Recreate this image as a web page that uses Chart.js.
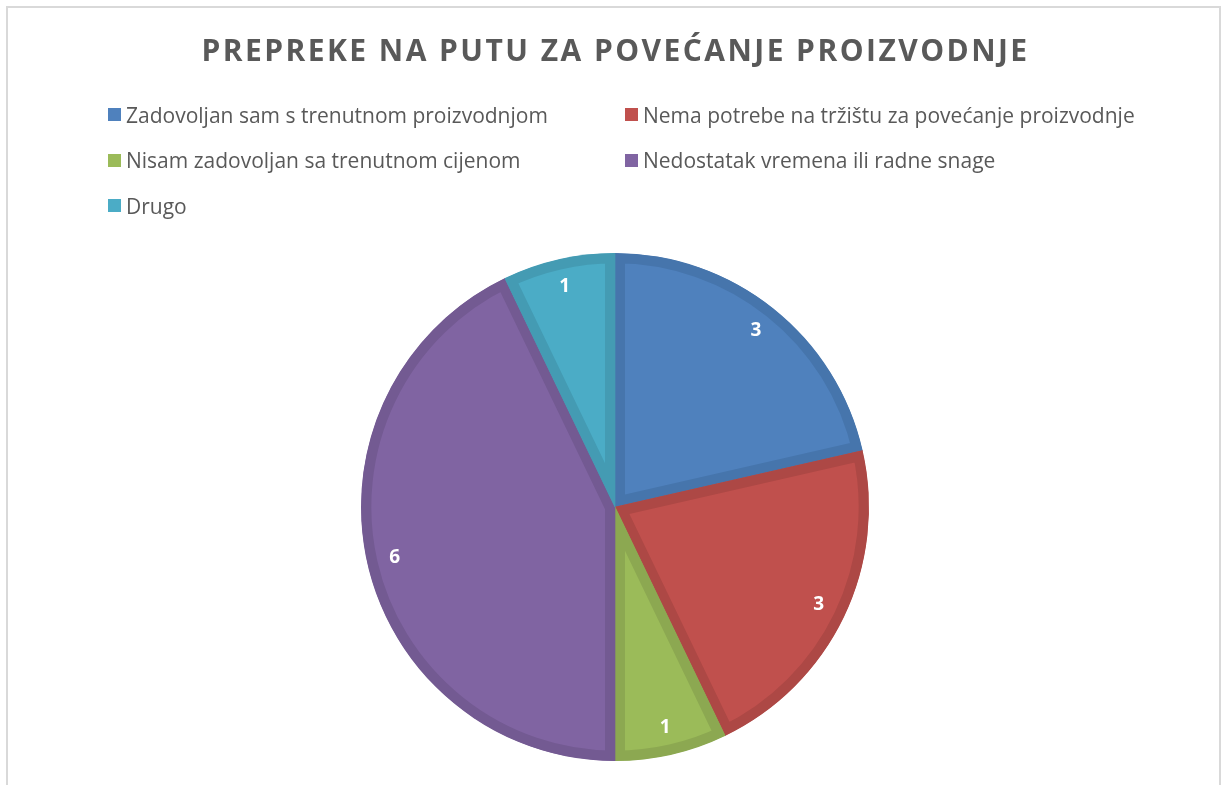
<!DOCTYPE html>
<html>
<head>
<meta charset="utf-8">
<script src="https://cdn.jsdelivr.net/npm/chart.js@4/dist/chart.umd.min.js"></script>
<style>
  html, body { margin: 0; padding: 0; background: #fff; }
  body { width: 1227px; height: 785px; position: relative; overflow: hidden; font-family: "Open Sans", sans-serif; }
  #frame { position: absolute; left: 6px; top: 6px; width: 1215px; height: 820px; border: 2px solid #d9d9d9; box-sizing: border-box; }
  #title { position: absolute; left: 0; width: 1231px; top: 29px; text-align: center;
           font: bold 30px "Open Sans", sans-serif; color: #595959; letter-spacing: 2.45px; }
  .item { position: absolute; display: flex; align-items: center; color: #595959; font-size: 21px; white-space: nowrap; }
  .item i { display: inline-block; width: 13px; height: 13px; margin-right: 5px; }
  #chart { position: absolute; left: 0; top: 0; }
</style>
</head>
<body>
<div id="frame"></div>
<canvas id="chart" width="1227" height="785"></canvas>
<div id="title">PREPREKE NA PUTU ZA POVEĆANJE PROIZVODNJE</div>
<div id="legend"></div>
<script>
/* ---------- data ---------- */
const labels = [
  'Zadovoljan sam s trenutnom proizvodnjom',
  'Nema potrebe na tržištu za povećanje proizvodnje',
  'Nisam zadovoljan sa trenutnom cijenom',
  'Nedostatak vremena ili radne snage',
  'Drugo'
];
const values = [3, 3, 1, 6, 1];

/* ---------- styles ---------- */
const fills   = ['#4f81bd', '#c0504d', '#9bbb59', '#8064a2', '#4bacc6'];
const borders = ['#4675ac', '#ad4845', '#8ca851', '#735a92', '#449bb3'];

// value labels inside the slices, like Excel's "best fit"
const sliceLabels = {
  id: 'sliceLabels',
  afterDatasetsDraw(chart) {
    const ctx = chart.ctx;
    const ds = chart.data.datasets[0];
    ctx.save();
    ctx.font = 'bold 19px "Open Sans", sans-serif';
    ctx.fillStyle = '#fff';
    ctx.textAlign = 'center';
    ctx.textBaseline = 'middle';
    chart.getDatasetMeta(0).data.forEach((arc, i) => {
      const { x, y, startAngle, endAngle, outerRadius } = arc.getProps(['x', 'y', 'startAngle', 'endAngle', 'outerRadius']);
      const mid = (startAngle + endAngle) / 2;
      const r = outerRadius * 0.89;
      ctx.fillText(ds.data[i], x + Math.cos(mid) * r, y + Math.sin(mid) * r);
    });
    ctx.restore();
  }
};

/* ---------- chart ---------- */
new Chart(document.getElementById('chart'), {
  type: 'pie',
  data: {
    labels,
    datasets: [{
      data: values,
      backgroundColor: fills,
      borderColor: borders,
      borderWidth: 10,
      borderAlign: 'inner',
      borderJoinStyle: 'miter'
    }]
  },
  options: {
    responsive: false,
    animation: false,
    layout: { padding: { left: 361, right: 358, top: 253, bottom: 24 } },
    plugins: { legend: { display: false }, tooltip: { enabled: false } }
  },
  plugins: [sliceLabels]
});

/* ---------- legend (two columns, like the original) ---------- */
const legend = document.getElementById('legend');
labels.forEach((txt, i) => {
  const el = document.createElement('div');
  el.className = 'item';
  el.style.left = (i % 2 ? 625 : 108) + 'px';
  el.style.top  = (100.5 + Math.floor(i / 2) * 45.5) + 'px';
  el.innerHTML = `<i style="background:${fills[i]}"></i>${txt}`;
  legend.appendChild(el);
});
</script>
</body>
</html>
